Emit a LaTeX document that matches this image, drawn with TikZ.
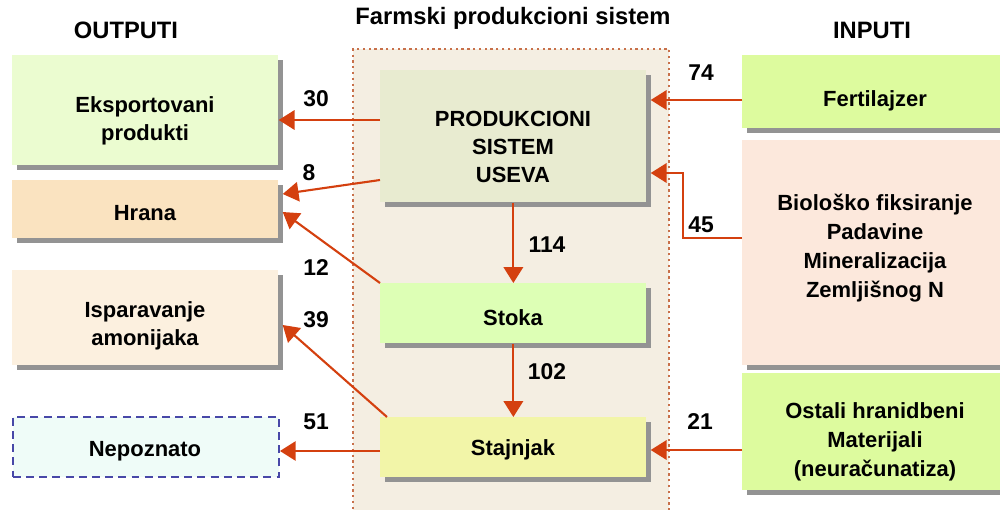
\documentclass[tikz,border=0pt]{standalone}
\usepackage{fontspec}
\setmainfont{Liberation Sans}
\usetikzlibrary{shadows,arrows.meta}
\definecolor{arr}{HTML}{D4400F}
\definecolor{cont}{HTML}{F4EEE2}
\definecolor{contb}{HTML}{C8704A}
\definecolor{cprod}{HTML}{E8EBD0}
\definecolor{cstoka}{HTML}{DDFFB5}
\definecolor{cstaj}{HTML}{F2F5A8}
\definecolor{cexp}{HTML}{EBFCD0}
\definecolor{chrana}{HTML}{FAE3C0}
\definecolor{cisp}{HTML}{FCF0DF}
\definecolor{cnep}{HTML}{EFFCF8}
\definecolor{cnepb}{HTML}{4848A8}
\definecolor{cfert}{HTML}{DDFB9E}
\definecolor{cbio}{HTML}{FCE8DC}
\tikzset{
  box/.style={draw=none, inner sep=0pt,
    drop shadow={shadow xshift=0.1cm, shadow yshift=-0.1cm, fill=gray!85, opacity=1}},
  txt/.style={align=center, inner sep=0pt, font=\bfseries\fontsize{12.5}{16}\selectfont},
  flow/.style={draw=arr, line width=1.2pt, -{Triangle[length=9pt,width=11pt]}},
  num/.style={font=\bfseries\fontsize{13}{15}\selectfont, inner sep=0pt},
  head/.style={font=\bfseries\fontsize{13.5}{15}\selectfont, inner sep=0pt}
}
\begin{document}
\begin{tikzpicture}[x=0.02cm,y=-0.02cm]
\useasboundingbox (0,0) rectangle (1000,510);
% container
\node[draw=contb, dotted, line width=1.3pt, fill=cont, minimum width=316*0.02cm, minimum height=470*0.02cm, anchor=north west, inner sep=0pt] (cont) at (352,48) {};
% titles
\node[head] (t1) at (513,18) {Farmski produkcioni sistem};
\node[head] (t2) at (126,30) {OUTPUTI};
\node[head] (t3) at (872,30) {INPUTI};
% center boxes
\node[box, fill=cprod, minimum width=266*0.02cm, minimum height=132*0.02cm, anchor=north west] (prod) at (380,70) {};
\node[box, fill=cstoka, minimum width=266*0.02cm, minimum height=60*0.02cm, anchor=north west] (stoka) at (380,283) {};
\node[box, fill=cstaj, minimum width=266*0.02cm, minimum height=60*0.02cm, anchor=north west] (staj) at (380,417) {};
% outputs
\node[box, fill=cexp, minimum width=266*0.02cm, minimum height=110*0.02cm, anchor=north west] (exp) at (12,55) {};
\node[box, fill=chrana, minimum width=266*0.02cm, minimum height=58*0.02cm, anchor=north west] (hrana) at (12,180) {};
\node[box, fill=cisp, minimum width=266*0.02cm, minimum height=95*0.02cm, anchor=north west] (isp) at (12,270) {};
\node[draw=cnepb, dash pattern=on 4.5pt off 3pt, line width=1.1pt, fill=cnep, inner sep=0pt,
  minimum width=266*0.02cm, minimum height=60*0.02cm, anchor=north west] (nep) at (12,416) {};
% inputs
\node[box, fill=cfert, minimum width=270*0.02cm, minimum height=73*0.02cm, anchor=north west] (fert) at (742,55) {};
\node[box, fill=cbio, minimum width=270*0.02cm, minimum height=225*0.02cm, anchor=north west] (bio) at (742,140) {};
\node[box, fill=cfert, minimum width=270*0.02cm, minimum height=117*0.02cm, anchor=north west] (ost) at (742,373) {};
% texts
\node[txt] (prodt) at (513,147) {PRODUKCIONI\\SISTEM\\USEVA};
\node[txt] (stokat) at (513,318) {Stoka};
\node[txt] (stajt) at (513,450) {Stajnjak};
\node[txt] (expt) at (145,121) {Eksportovani\\produkti};
\node[txt] (hranat) at (145,213) {Hrana};
\node[txt] (ispt) at (145,326) {Isparavanje\\amonijaka};
\node[txt] (nept) at (145,451) {Nepoznato};
\node[txt] (fertt) at (875,101) {Fertilajzer};
\node[txt, font=\bfseries\fontsize{12.5}{16.5}\selectfont] (biot) at (875,248) {Biološko fiksiranje\\Padavine\\Mineralizacija\\Zemljišnog N};
\node[txt, font=\bfseries\fontsize{12.5}{16.5}\selectfont] (ostt) at (875,442) {Ostali hranidbeni\\Materijali\\(neuračunatiza)};
% coordinates
\coordinate (p30) at (prod.west |- 0,120);
\coordinate (e30) at (exp.east |- 0,120);
\coordinate (p8) at (prod.west |- 0,180);
\coordinate (h8) at ([xshift=4*0.02cm]hrana.east |- 0,194);
\coordinate (s12) at (stoka.north west);
\coordinate (h12) at ([xshift=4*0.02cm]hrana.east |- 0,212);
\coordinate (j39) at ([xshift=7*0.02cm]staj.north west);
\coordinate (i39) at ([xshift=4*0.02cm]isp.east |- 0,325);
\coordinate (j51) at (staj.west |- 0,451);
\coordinate (n51) at (nep.east |- 0,451);
\coordinate (f74) at (fert.west |- 0,100);
\coordinate (p74) at ([xshift=4*0.02cm]prod.east |- 0,100);
\coordinate (b45) at (bio.west |- 0,238);
\coordinate (k45) at (683,238);
\coordinate (p45) at ([xshift=4*0.02cm]prod.east |- 0,173);
\coordinate (o21) at (ost.west |- 0,450);
\coordinate (j21) at ([xshift=4*0.02cm]staj.east |- 0,450);
% flows
\draw[flow] (p30) -- (e30);
\draw[flow] (p8) -- (h8);
\draw[flow] (s12) -- (h12);
\draw[flow] (j39) -- (i39);
\draw[flow] (j51) -- (n51);
\draw[flow] (f74) -- (p74);
\draw[flow] (b45) -- (k45) |- (p45);
\draw[flow] (o21) -- (j21);
\draw[flow] (prod.south) -- (stoka.north);
\draw[flow] (stoka.south) -- (staj.north);
% numbers
\node[num] (n30) at (316,99) {30};
\node[num] (n8) at (309,173) {8};
\node[num] (n12) at (316,268) {12};
\node[num] (n39) at (316,320) {39};
\node[num] (n51l) at (316,422) {51};
\node[num] (n74) at (701,73) {74};
\node[num] (n45) at (701,225) {45};
\node[num] (n21) at (700,422) {21};
\node[num] (n114) at (547,245) {114};
\node[num] (n102) at (547,372) {102};
\end{tikzpicture}
\end{document}
